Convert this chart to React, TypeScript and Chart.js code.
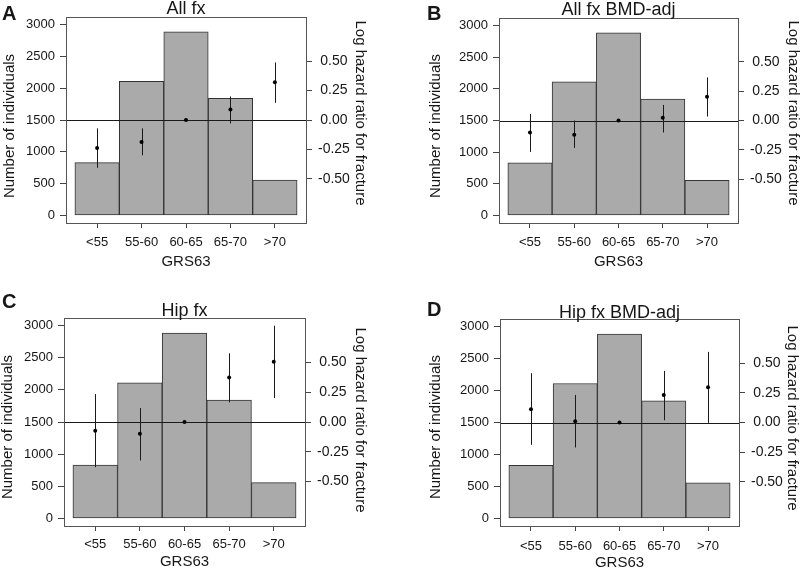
import React, { useEffect, useRef } from "react";
import { Chart, registerables } from "chart.js";

Chart.register(...registerables);

// ---------------- data ----------------
const categories = ["<55", "55-60", "60-65", "65-70", ">70"];
const counts = [830, 2110, 2885, 1840, 555];
const countTicks = [0, 500, 1000, 1500, 2000, 2500, 3000];
const hrTicks = [-0.5, -0.25, 0, 0.25, 0.5];

const estA = [-0.237, -0.186, 0, 0.089, 0.32];
const loA = [-0.406, -0.3, 0, -0.029, 0.146];
const hiA = [-0.071, -0.071, 0, 0.2, 0.489];

const estB = [-0.102, -0.121, 0, 0.023, 0.203];
const loB = [-0.268, -0.234, 0, -0.102, 0.034];
const hiB = [0.056, 0.0, 0, 0.133, 0.367];

const estC = [-0.073, -0.098, 0, 0.374, 0.506];
const loC = [-0.38, -0.324, 0, 0.165, 0.201];
const hiC = [0.235, 0.117, 0, 0.578, 0.81];

const estD = [0.111, 0.011, 0, 0.233, 0.297];
const loD = [-0.189, -0.211, 0, 0.019, -0.003];
const hiD = [0.417, 0.233, 0, 0.436, 0.597];

const FONT = '"Liberation Sans", Arial, Helvetica, sans-serif';
const TEXT = "#161616";

type Panel = {
  letter: string;
  title: string;
  est: number[];
  lo: number[];
  hi: number[];
  left: number;
  top: number;
  w: number;
  h: number;
  area: { l: number; r: number; t: number; b: number };
  letterPos: [number, number];
  titleBase: number;
  leftTitle: [number, number];
  rightTitle: [number, number];
  xTitleY: number;
  xTickPad: number;
};

const panels: Panel[] = [
  {
    letter: "A", title: "All fx", est: estA, lo: loA, hi: hiA,
    left: 0, top: 0, w: 400, h: 285,
    area: { l: 66, r: 306, t: 17, b: 223 },
    letterPos: [2, 20], titleBase: 14,
    leftTitle: [10, 126], rightTitle: [360, 113], xTitleY: 262, xTickPad: 7,
  },
  {
    letter: "B", title: "All fx BMD-adj", est: estB, lo: loB, hi: hiB,
    left: 400, top: 0, w: 400, h: 285,
    area: { l: 99, r: 338, t: 18, b: 223 },
    letterPos: [27, 20], titleBase: 15,
    leftTitle: [36, 126], rightTitle: [393, 113], xTitleY: 262, xTickPad: 7,
  },
  {
    letter: "C", title: "Hip fx", est: estC, lo: loC, hi: hiC,
    left: 0, top: 285, w: 400, h: 284,
    area: { l: 64, r: 305, t: 33, b: 241 },
    letterPos: [2, 23], titleBase: 31,
    leftTitle: [8, 142], rightTitle: [360, 135], xTitleY: 277, xTickPad: 6,
  },
  {
    letter: "D", title: "Hip fx BMD-adj", est: estD, lo: loD, hi: hiD,
    left: 400, top: 285, w: 400, h: 284,
    area: { l: 100, r: 339, t: 34, b: 241 },
    letterPos: [27, 31], titleBase: 33,
    leftTitle: [36, 142], rightTitle: [392, 133], xTitleY: 278, xTickPad: 8,
  },
];

const decorPlugin = {
  id: "panelDecor",
  afterDatasetDraw(chart: any, args: any, opts: any) {
    if (args.index !== 0) return;
    const ctx = chart.ctx;
    const area = chart.chartArea;
    const xs = chart.scales.x;
    const ys = chart.scales.y2;
    ctx.save();
    ctx.strokeStyle = "#1a1a1a";
    ctx.lineWidth = 1;
    const y0 = Math.round(ys.getPixelForValue(0)) + 0.5;
    ctx.beginPath();
    ctx.moveTo(area.left, y0);
    ctx.lineTo(area.right, y0);
    ctx.stroke();
    const lo: number[] = opts.lo;
    const hi: number[] = opts.hi;
    for (let i = 0; i < lo.length; i++) {
      if (lo[i] === hi[i]) continue;
      const px = Math.round(xs.getPixelForValue(i + 1)) + 0.5;
      ctx.beginPath();
      ctx.moveTo(px, ys.getPixelForValue(lo[i]));
      ctx.lineTo(px, ys.getPixelForValue(hi[i]));
      ctx.stroke();
    }
    ctx.restore();
  },
  afterDraw(chart: any, _args: any, opts: any) {
    const ctx = chart.ctx;
    const a = chart.chartArea;
    ctx.save();
    ctx.strokeStyle = "#555";
    ctx.lineWidth = 1;
    ctx.strokeRect(Math.round(a.left) + 0.5, Math.round(a.top) + 0.5, Math.round(a.right - a.left), Math.round(a.bottom - a.top));

    ctx.fillStyle = TEXT;
    ctx.textBaseline = "alphabetic";
    ctx.textAlign = "left";
    ctx.font = `bold 20px ${FONT}`;
    ctx.fillText(opts.letter, opts.letterPos[0], opts.letterPos[1]);

    ctx.textAlign = "center";
    ctx.font = `18px ${FONT}`;
    ctx.fillText(opts.title, (a.left + a.right) / 2, opts.titleBase);

    ctx.textBaseline = "middle";
    ctx.font = `15px ${FONT}`;
    ctx.fillText("GRS63", (a.left + a.right) / 2, opts.xTitleY);

    ctx.save();
    ctx.translate(opts.leftTitle[0], opts.leftTitle[1]);
    ctx.rotate(-Math.PI / 2);
    ctx.fillText("Number of individuals", 0, 0);
    ctx.restore();

    ctx.save();
    ctx.translate(opts.rightTitle[0], opts.rightTitle[1]);
    ctx.rotate(Math.PI / 2);
    ctx.fillText("Log hazard ratio for fracture", 0, 0);
    ctx.restore();

    ctx.restore();
  },
};

function PanelChart({ p }: { p: Panel }) {
  const ref = useRef<HTMLCanvasElement>(null);
  useEffect(() => {
    if (!ref.current) return;
    const R = 0.875;
    const chart = new Chart(ref.current, {
      type: "bar",
      data: {
        datasets: [
          {
            type: "bar",
            label: "N",
            data: counts.map((c, i) => ({ x: i + 1, y: c })),
            backgroundColor: "#aaaaaa",
            borderColor: "#333333",
            borderWidth: 1,
            borderSkipped: false,
            barPercentage: 1,
            categoryPercentage: 1,
            xAxisID: "x",
            yAxisID: "y",
            order: 2,
          } as any,
          {
            type: "scatter",
            label: "logHR",
            data: p.est.map((v, i) => ({ x: i + 1, y: v })),
            backgroundColor: "#000",
            borderColor: "#000",
            pointRadius: 2,
            pointBorderWidth: 0,
            showLine: false,
            xAxisID: "x",
            yAxisID: "y2",
            order: 1,
          } as any,
        ],
      },
      options: {
        animation: false,
        responsive: false,
        events: [],
        layout: { padding: { top: p.area.t, left: 0, right: 0, bottom: 0 } },
        plugins: {
          legend: { display: false },
          tooltip: { enabled: false },
          panelDecor: {
            lo: p.lo, hi: p.hi, letter: p.letter, title: p.title,
            letterPos: p.letterPos, titleBase: p.titleBase,
            leftTitle: p.leftTitle, rightTitle: p.rightTitle, xTitleY: p.xTitleY,
          },
        } as any,
        scales: {
          x: {
            type: "linear",
            position: "bottom",
            min: 0.3,
            max: 5.7,
            offset: false,
            afterBuildTicks: (s: any) => {
              s.ticks = categories.map((_, i) => ({ value: i + 1 }));
            },
            afterFit: (s: any) => {
              s.height = p.h - p.area.b;
            },
            ticks: {
              autoSkip: false,
              maxRotation: 0,
              padding: p.xTickPad,
              color: TEXT,
              font: { family: FONT, size: 13 },
              callback: (v: any) => categories[Math.round(Number(v)) - 1] ?? "",
            },
            grid: { offset: false, drawOnChartArea: false, drawTicks: true, tickLength: 5, color: "#444" },
            border: { display: false },
          },
          y: {
            type: "linear",
            position: "left",
            min: -120,
            max: 3120,
            afterBuildTicks: (s: any) => {
              s.ticks = countTicks.map((v) => ({ value: v }));
            },
            afterFit: (s: any) => {
              s.width = p.area.l;
            },
            ticks: {
              padding: 5,
              color: TEXT,
              font: { family: FONT, size: 13 },
              callback: (v: any) => String(v),
            },
            grid: { drawOnChartArea: false, drawTicks: true, tickLength: 6, color: "#444" },
            border: { display: false },
          },
          y2: {
            type: "linear",
            position: "right",
            min: -R,
            max: R,
            afterBuildTicks: (s: any) => {
              s.ticks = hrTicks.map((v) => ({ value: v }));
            },
            afterFit: (s: any) => {
              s.width = p.w - p.area.r;
            },
            ticks: {
              padding: 6,
              crossAlign: "center",
              color: TEXT,
              font: { family: FONT, size: 14 },
              callback: (v: any) => Number(v).toFixed(2),
            },
            grid: { drawOnChartArea: false, drawTicks: true, tickLength: 6, color: "#444" },
            border: { display: false },
          },
        },
      } as any,
      plugins: [decorPlugin as any],
    });
    return () => chart.destroy();
  }, [p]);
  return (
    <canvas
      ref={ref}
      width={p.w}
      height={p.h}
      style={{ position: "absolute", left: p.left, top: p.top, width: p.w, height: p.h }}
    />
  );
}

export default function App() {
  return (
    <div style={{ position: "absolute", left: 0, top: 0, width: 800, height: 569, background: "#fff", overflow: "hidden" }}>
      {panels.map((p) => (
        <PanelChart key={p.letter} p={p} />
      ))}
    </div>
  );
}
